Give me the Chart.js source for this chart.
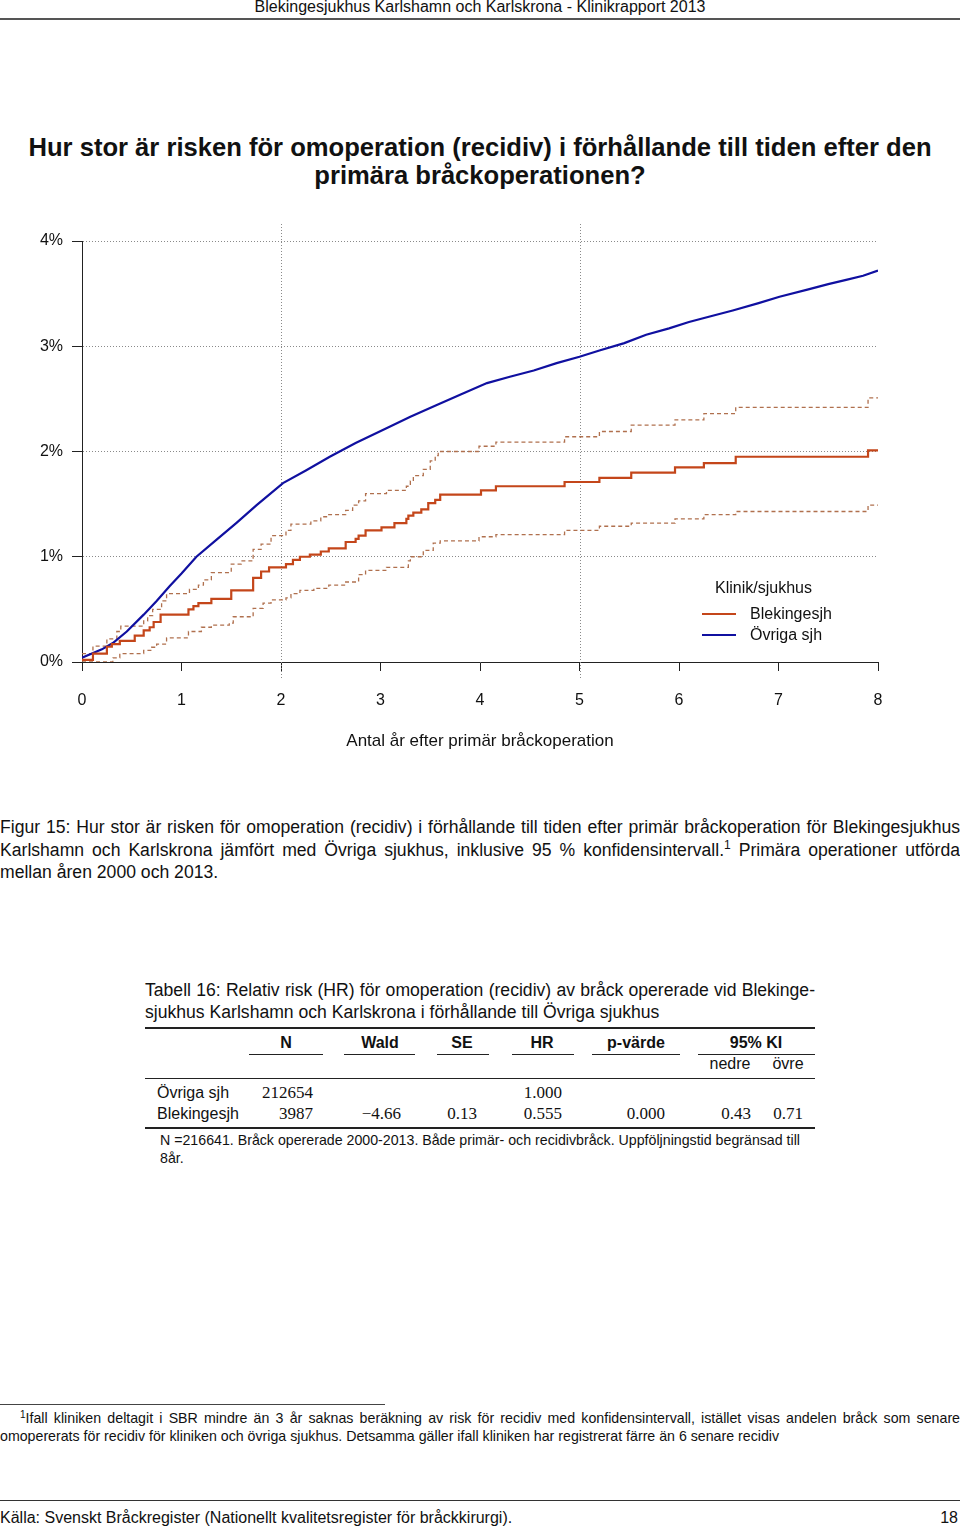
<!DOCTYPE html>
<html><head><meta charset="utf-8">
<script src="https://cdn.jsdelivr.net/npm/chart.js@4"></script>
<style>
body{margin:0;width:960px;height:1530px;position:relative;font-family:"Liberation Sans",Arial,Helvetica,sans-serif;color:#111;background:#fff;overflow:hidden}
.a{position:absolute;white-space:nowrap}
.j{position:absolute;white-space:nowrap;text-align:justify;text-align-last:justify}
.r{position:absolute;background:#222}
.num{font-family:"Liberation Serif","Times New Roman",serif;font-size:17px}
.b{font-weight:bold}
sup{font-size:12px;vertical-align:0;position:relative;top:-7px}
</style></head><body>

<div class="a" style="left:0;width:960px;top:-3px;line-height:20px;font-size:16px;text-align:center">Blekingesjukhus Karlshamn och Karlskrona - Klinikrapport 2013</div>
<div class="r" style="left:0;top:18px;width:960px;height:2px;background:#555"></div>

<div class="a b" style="left:0;width:960px;top:133px;line-height:28px;font-size:25.6px;text-align:center">Hur stor är risken för omoperation (recidiv) i förhållande till tiden efter den<br>primära bråckoperationen?</div>

<div style="position:absolute;left:0;top:200px;width:960px;height:570px"><canvas id="c" width="960" height="570"></canvas></div>

<div class="a" style="left:715px;top:578px;line-height:20px;font-size:16px">Klinik/sjukhus</div>
<div class="r" style="left:702px;top:613px;width:34px;height:2px;background:#c4461a"></div>
<div class="r" style="left:702px;top:634px;width:34px;height:2px;background:#1010a0"></div>
<div class="a" style="left:750px;top:604px;line-height:20px;font-size:16px">Blekingesjh</div>
<div class="a" style="left:750px;top:625px;line-height:20px;font-size:16px">Övriga sjh</div>

<div class="j" style="left:0;width:960px;top:816px;line-height:22px;font-size:17.6px">Figur 15: Hur stor är risken för omoperation (recidiv) i förhållande till tiden efter primär bråckoperation för Blekingesjukhus</div>
<div class="j" style="left:0;width:960px;top:839px;line-height:22px;font-size:17.6px">Karlshamn och Karlskrona jämfört med Övriga sjukhus, inklusive 95 % konfidensintervall.<sup>1</sup> Primära operationer utförda</div>
<div class="a" style="left:0;top:861px;line-height:22px;font-size:17.6px">mellan åren 2000 och 2013.</div>

<div class="j" style="left:145px;width:670px;top:979px;line-height:22px;font-size:17.6px">Tabell 16: Relativ risk (HR) för omoperation (recidiv) av bråck opererade vid Blekinge-</div>
<div class="a" style="left:145px;top:1001px;line-height:22px;font-size:17.6px">sjukhus Karlshamn och Karlskrona i förhållande till Övriga sjukhus</div>

<div class="r" style="left:145px;top:1027px;width:670px;height:2px"></div>
<div class="a b" style="left:226px;width:120px;text-align:center;top:1033px;line-height:20px;font-size:16px">N</div>
<div class="a b" style="left:320px;width:120px;text-align:center;top:1033px;line-height:20px;font-size:16px">Wald</div>
<div class="a b" style="left:402px;width:120px;text-align:center;top:1033px;line-height:20px;font-size:16px">SE</div>
<div class="a b" style="left:482px;width:120px;text-align:center;top:1033px;line-height:20px;font-size:16px">HR</div>
<div class="a b" style="left:576px;width:120px;text-align:center;top:1033px;line-height:20px;font-size:16px">p-värde</div>
<div class="a b" style="left:696px;width:120px;text-align:center;top:1033px;line-height:20px;font-size:16px">95% KI</div>
<div class="r" style="left:249px;top:1054px;width:74px;height:1px"></div>
<div class="r" style="left:344px;top:1054px;width:71px;height:1px"></div>
<div class="r" style="left:437px;top:1054px;width:52px;height:1px"></div>
<div class="r" style="left:512px;top:1054px;width:62px;height:1px"></div>
<div class="r" style="left:592px;top:1054px;width:88px;height:1px"></div>
<div class="r" style="left:698px;top:1054px;width:117px;height:1px"></div>
<div class="a" style="left:690px;width:80px;text-align:center;top:1054px;line-height:20px;font-size:16px">nedre</div>
<div class="a" style="left:748px;width:80px;text-align:center;top:1054px;line-height:20px;font-size:16px">övre</div>
<div class="r" style="left:145px;top:1078px;width:670px;height:1px"></div>

<div class="a" style="left:157px;top:1083px;line-height:20px;font-size:16px">Övriga sjh</div>
<div class="a num" style="left:213px;width:100px;text-align:right;top:1083px;line-height:20px">212654</div>
<div class="a num" style="left:462px;width:100px;text-align:right;top:1083px;line-height:20px">1.000</div>

<div class="a" style="left:157px;top:1104px;line-height:20px;font-size:16px">Blekingesjh</div>
<div class="a num" style="left:213px;width:100px;text-align:right;top:1104px;line-height:20px">3987</div>
<div class="a num" style="left:301px;width:100px;text-align:right;top:1104px;line-height:20px">−4.66</div>
<div class="a num" style="left:377px;width:100px;text-align:right;top:1104px;line-height:20px">0.13</div>
<div class="a num" style="left:462px;width:100px;text-align:right;top:1104px;line-height:20px">0.555</div>
<div class="a num" style="left:565px;width:100px;text-align:right;top:1104px;line-height:20px">0.000</div>
<div class="a num" style="left:651px;width:100px;text-align:right;top:1104px;line-height:20px">0.43</div>
<div class="a num" style="left:703px;width:100px;text-align:right;top:1104px;line-height:20px">0.71</div>
<div class="r" style="left:145px;top:1127px;width:670px;height:2px"></div>

<div class="a" style="left:160px;top:1131px;line-height:18px;font-size:14.2px">N =216641. Bråck opererade 2000-2013. Både primär- och recidivbråck. Uppföljningstid begränsad till</div>
<div class="a" style="left:160px;top:1149px;line-height:18px;font-size:14.2px">8år.</div>

<div class="r" style="left:0;top:1404px;width:385px;height:1px;background:#444"></div>
<div class="j" style="left:20px;width:940px;top:1409px;line-height:18px;font-size:14.2px"><sup style="font-size:10px;top:-5px">1</sup>Ifall kliniken deltagit i SBR mindre än 3 år saknas beräkning av risk för recidiv med konfidensintervall, istället visas andelen bråck som senare</div>
<div class="a" style="left:0;top:1427px;line-height:18px;font-size:14.2px">omopererats för recidiv för kliniken och övriga sjukhus. Detsamma gäller ifall kliniken har registrerat färre än 6 senare recidiv</div>

<div class="r" style="left:0;top:1500px;width:960px;height:1px;background:#333"></div>
<div class="a" style="left:0;top:1508px;line-height:20px;font-size:16px">Källa: Svenskt Bråckregister (Nationellt kvalitetsregister för bråckkirurgi).</div>
<div class="a" style="left:900px;width:58px;text-align:right;top:1508px;line-height:20px;font-size:16px">18</div>

<script>
// ---- Data (years after primary operation, cumulative risk in %) ----
const ovrigaYears = [0,0.1,0.2,0.31,0.45,0.62,0.75,0.88,1.0,1.15,1.35,1.55,1.755,2.02,2.25,2.49,2.75,3.06,3.3,3.56,3.8,4.07,4.3,4.54,4.77,5.0,5.2,5.45,5.67,5.9,6.1,6.3,6.54,6.8,7.01,7.3,7.5,7.68,7.85,8.0];
const ovrigaRisk  = [0.04,0.08,0.12,0.18,0.29,0.45,0.58,0.72,0.84,1.0,1.16,1.32,1.49,1.70,1.82,1.95,2.08,2.22,2.33,2.44,2.54,2.65,2.71,2.77,2.84,2.90,2.96,3.03,3.11,3.17,3.23,3.28,3.34,3.41,3.47,3.54,3.59,3.63,3.67,3.72];

const blekYears = [0,0.11,0.25,0.3,0.38,0.53,0.62,0.68,0.72,0.79,1.07,1.12,1.17,1.3,1.5,1.72,1.8,1.88,2.05,2.12,2.19,2.29,2.4,2.48,2.65,2.75,2.78,2.85,3.01,3.14,3.26,3.28,3.33,3.41,3.48,3.55,3.6,4.01,4.16,4.85,5.2,5.52,5.96,6.25,6.57,7.9,8.0];
const blekRisk  = [0.02,0.08,0.145,0.17,0.2,0.25,0.3,0.33,0.38,0.45,0.5,0.53,0.56,0.6,0.68,0.8,0.86,0.9,0.93,0.97,1.0,1.02,1.05,1.08,1.14,1.17,1.2,1.25,1.28,1.32,1.36,1.39,1.42,1.45,1.51,1.54,1.59,1.63,1.67,1.71,1.75,1.80,1.85,1.89,1.95,2.01,2.01];

const blekUpperYears = [0,0.11,0.25,0.35,0.39,0.62,0.66,0.71,0.8,0.85,1.08,1.17,1.22,1.3,1.5,1.6,1.72,1.8,1.9,2.05,2.1,2.3,2.4,2.48,2.65,2.72,2.78,2.85,3.06,3.26,3.3,3.33,3.43,3.5,3.55,3.58,3.99,4.16,4.85,5.2,5.52,5.96,6.25,6.57,7.9,8.0];
const blekUpperRisk  = [0.08,0.15,0.22,0.29,0.34,0.39,0.44,0.5,0.58,0.65,0.69,0.73,0.78,0.85,0.93,0.96,1.07,1.12,1.2,1.25,1.31,1.34,1.38,1.40,1.44,1.49,1.53,1.6,1.63,1.67,1.72,1.77,1.83,1.91,1.96,2.0,2.05,2.09,2.14,2.19,2.25,2.30,2.36,2.42,2.51,2.51];

const blekLowerYears = [0,0.31,0.38,0.62,0.7,0.75,0.85,1.07,1.2,1.3,1.48,1.52,1.72,1.82,1.9,2.05,2.1,2.19,2.33,2.48,2.65,2.78,2.85,3.06,3.28,3.3,3.43,3.53,3.6,3.99,4.16,4.85,5.2,5.52,5.96,6.25,6.57,7.9,8.0];
const blekLowerRisk  = [0.0,0.04,0.08,0.11,0.14,0.17,0.23,0.29,0.33,0.35,0.37,0.43,0.51,0.56,0.59,0.61,0.65,0.68,0.7,0.73,0.76,0.83,0.87,0.9,0.96,1.0,1.06,1.13,1.15,1.19,1.21,1.25,1.29,1.32,1.36,1.40,1.43,1.49,1.49];

const xTicks = [0,1,2,3,4,5,6,7,8];
const yTicks = [0,1,2,3,4];
const vGridYears = [2,5];
const seriesNames = ['Blekingesjh','Övriga sjh'];

const ORANGE = '#c4461a', BLUE = '#1010a0', CI = '#b0704e', GRID = '#8a8a8a';
const FONT = '"Liberation Sans", Arial, Helvetica, sans-serif';
const pts = (xs, ys) => xs.map((x, i) => ({x: x, y: ys[i]}));

const vlines = {
  id: 'vlines',
  beforeDatasetsDraw(c) {
    const {ctx, chartArea: a, scales: {x}} = c;
    ctx.save();
    ctx.strokeStyle = GRID; ctx.lineWidth = 1; ctx.setLineDash([1, 2]);
    vGridYears.forEach(v => {
      const px = Math.round(x.getPixelForValue(v)) + 0.5;
      ctx.beginPath(); ctx.moveTo(px, a.top - 17); ctx.lineTo(px, a.bottom + 18); ctx.stroke();
    });
    ctx.restore();
  }
};

new Chart(document.getElementById('c'), {
  type: 'line',
  data: {
    datasets: [
      {label: seriesNames[0], data: pts(blekYears, blekRisk), borderColor: ORANGE, borderWidth: 2.2, stepped: 'before', pointRadius: 0, fill: false},
      {label: seriesNames[1], data: pts(ovrigaYears, ovrigaRisk), borderColor: BLUE, borderWidth: 2.2, tension: 0, pointRadius: 0, fill: false},
      {label: seriesNames[0] + ' övre KI', data: pts(blekUpperYears, blekUpperRisk), borderColor: CI, borderWidth: 1.3, borderDash: [4, 3], stepped: 'before', pointRadius: 0, fill: false},
      {label: seriesNames[0] + ' nedre KI', data: pts(blekLowerYears, blekLowerRisk), borderColor: CI, borderWidth: 1.3, borderDash: [4, 3], stepped: 'before', pointRadius: 0, fill: false}
    ]
  },
  options: {
    responsive: false,
    animation: false,
    layout: {padding: {left: 0, right: 82, top: 41, bottom: 18}},
    plugins: {legend: {display: false}, tooltip: {enabled: false}},
    scales: {
      x: {
        type: 'linear', min: 0, max: 8,
        afterBuildTicks: s => { s.ticks = xTicks.map(v => ({value: v})); },
        ticks: {padding: 20, color: '#111', font: {size: 16, family: FONT}, maxRotation: 0},
        grid: {drawOnChartArea: false, tickLength: 9, tickColor: '#222', tickWidth: 1},
        border: {color: '#222', width: 1},
        title: {display: true, text: 'Antal år efter primär bråckoperation', color: '#111', font: {size: 17, family: FONT}, padding: 0},
        afterFit: s => { s.height = 90; }
      },
      y: {
        min: 0, max: 4,
        afterBuildTicks: s => { s.ticks = yTicks.map(v => ({value: v})); },
        ticks: {padding: 9, color: '#111', font: {size: 16, family: FONT}, callback: v => v + '%'},
        grid: {color: c => (c.tick && c.tick.value === 0) ? 'rgba(0,0,0,0)' : GRID, lineWidth: 1, tickLength: 10, tickColor: '#222', tickWidth: 1},
        border: {color: '#222', width: 1, dash: [1, 2]},
        afterFit: s => { s.width = 82; }
      }
    }
  },
  plugins: [vlines]
});
</script>
</body></html>
